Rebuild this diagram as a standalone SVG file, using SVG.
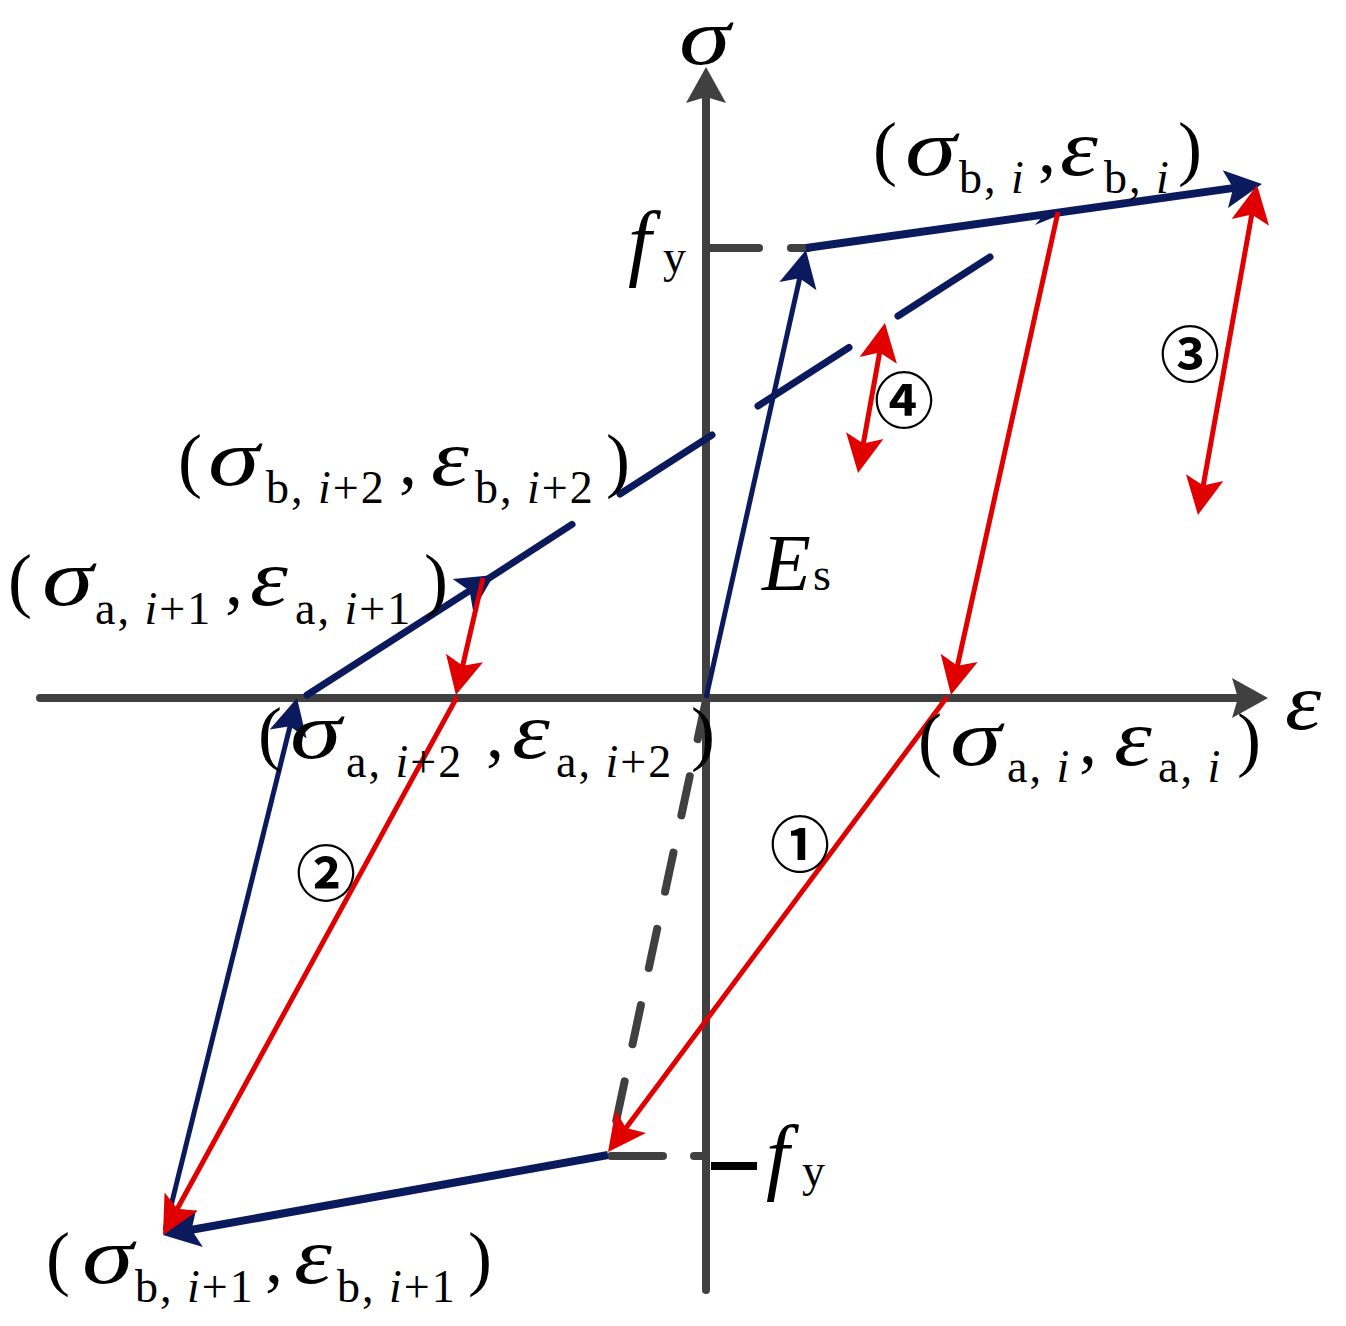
<svg xmlns="http://www.w3.org/2000/svg" width="1346" height="1326" viewBox="0 0 1346 1326">
<style>
.ax{stroke:#404040;stroke-width:8;fill:none;stroke-linecap:round}
.bl{stroke:#0b1a5c;fill:none}
.rd{stroke:#e00000;stroke-width:5;fill:none}
.t{font-family:"Liberation Serif","Times New Roman",serif;fill:#000;font-size:72px}
.g{font-family:"Liberation Serif","Times New Roman",serif;fill:#000;font-size:80px;font-style:italic}
.s{font-size:46px;letter-spacing:2px}
.i{font-style:italic}
.c{font-family:"Noto Sans CJK SC","DejaVu Sans",sans-serif;font-size:60px;font-weight:bold;text-anchor:middle;fill:#000}
</style>
<defs>
<marker id="ag" markerUnits="userSpaceOnUse" markerWidth="44" markerHeight="44" viewBox="-40 -22 44 44" refX="-15" refY="0" orient="auto"><path d="M0,0 L-36,-20 L-30,0 L-36,20 Z" fill="#404040"/></marker>
<marker id="ab" markerUnits="userSpaceOnUse" markerWidth="44" markerHeight="44" viewBox="-40 -22 44 44" refX="-15" refY="0" orient="auto"><path d="M0,0 L-37,-19 L-29,0 L-37,19 Z" fill="#0b1a5c"/></marker>
<marker id="ar" markerUnits="userSpaceOnUse" markerWidth="44" markerHeight="44" viewBox="-40 -22 44 44" refX="-15" refY="0" orient="auto-start-reverse"><path d="M0,0 L-38,-19 L-30,0 L-38,19 Z" fill="#e00000"/></marker>
</defs>

<g id="axes">
<line class="ax" x1="706" y1="1290" x2="706" y2="82" marker-end="url(#ag)"/>
<line class="ax" x1="40" y1="698" x2="1253" y2="698" marker-end="url(#ag)"/>
<line class="ax" x1="710" y1="248" x2="759" y2="248"/>
<line class="ax" x1="791" y1="248" x2="808" y2="248"/>
<line class="ax" x1="611" y1="1156" x2="663" y2="1156"/>
<line class="ax" x1="694" y1="1156" x2="706" y2="1156"/>
<line x1="711" y1="1166" x2="757" y2="1166" stroke="#000" stroke-width="8"/>
<line class="ax" x1="706" y1="700" x2="610" y2="1150" stroke-width="7" stroke-dasharray="40 38"/>
</g>

<g id="connectors">
<line class="bl" stroke-width="5" x1="706" y1="698" x2="802.7" y2="264.6" marker-end="url(#ab)"/>
<line class="bl" stroke-width="8" x1="806" y1="248" x2="1247.1" y2="186.1" marker-end="url(#ab)"/>
<polygon points="1035,225 1057,216 1043,216" fill="#0b1a5c"/>
<line class="bl" stroke-width="7" stroke-linecap="round" x1="307" y1="695" x2="481.4" y2="583.1" marker-end="url(#ab)"/>
<line class="bl" stroke-width="7" stroke-linecap="round" x1="481" y1="583.4" x2="572" y2="524.4"/>
<line class="bl" stroke-width="7" stroke-linecap="round" x1="620" y1="494" x2="712" y2="435"/>
<line class="bl" stroke-width="7" stroke-linecap="round" x1="758" y1="406" x2="849" y2="347.5"/>
<line class="bl" stroke-width="7" stroke-linecap="round" x1="898" y1="316" x2="990" y2="257"/>
<line class="bl" stroke-width="5" x1="165" y1="1230" x2="293.4" y2="712.6" marker-end="url(#ab)"/>
<line class="bl" stroke-width="8" x1="608" y1="1155" x2="177.8" y2="1232.3" marker-end="url(#ab)"/>

<line class="rd" x1="1058" y1="212" x2="954.2" y2="680.4" marker-end="url(#ar)"/>
<line class="rd" x1="947" y1="697" x2="617" y2="1140" marker-end="url(#ar)"/>
<line class="rd" x1="483" y1="578" x2="459.3" y2="680.4" marker-end="url(#ar)"/>
<line class="rd" x1="457" y1="697" x2="170.2" y2="1221.8" marker-end="url(#ar)"/>
<line class="rd" x1="1254.4" y1="199.8" x2="1200.6" y2="500.2" marker-start="url(#ar)" marker-end="url(#ar)"/>
<line class="rd" x1="882.3" y1="337.8" x2="860.7" y2="458.2" marker-start="url(#ar)" marker-end="url(#ar)"/>
</g>

<g id="axis-labels">
<text class="g" transform="translate(679,64) scale(1.3,1)">σ</text>
<text class="g" transform="translate(1285,729) scale(1.15,1)">ε</text>
<text class="t"><tspan class="i" font-size="84" x="628" y="270">f</tspan><tspan class="s" x="663" y="272">y</tspan></text>
<text class="t"><tspan class="i" font-size="84" x="766" y="1184">f</tspan><tspan class="s" x="802" y="1186">y</tspan></text>
<text class="t"><tspan class="i" font-size="80" x="762" y="590">E</tspan><tspan class="s" x="813" y="590">s</tspan></text>
</g>

<g id="label-b-i">
<text class="g" transform="translate(905,175) scale(1.3,1)">σ</text>
<text class="g" transform="translate(1060,175) scale(1.2,1)">ε</text>
<text class="t"><tspan x="873" y="172">(</tspan><tspan class="s" x="959" y="193">b, </tspan><tspan class="s i" y="193">i</tspan><tspan x="1038" y="172">,</tspan><tspan class="s" x="1104" y="193">b, </tspan><tspan class="s i" y="193">i</tspan><tspan x="1178" y="172">)</tspan></text>
</g>

<g id="label-b-i2">
<text class="g" transform="translate(208,485) scale(1.3,1)">σ</text>
<text class="g" transform="translate(431,485) scale(1.2,1)">ε</text>
<text class="t"><tspan x="178" y="484">(</tspan><tspan class="s" x="266" y="503">b, </tspan><tspan class="s i" y="503">i</tspan><tspan class="s" y="503">+2</tspan><tspan x="399" y="484">,</tspan><tspan class="s" x="475" y="503">b, </tspan><tspan class="s i" y="503">i</tspan><tspan class="s" y="503">+2</tspan><tspan x="606" y="484">)</tspan></text>
</g>

<g id="label-a-i1">
<text class="g" transform="translate(42,605) scale(1.3,1)">σ</text>
<text class="g" transform="translate(250,605) scale(1.2,1)">ε</text>
<text class="t"><tspan x="8" y="604">(</tspan><tspan class="s" x="95" y="624">a, </tspan><tspan class="s i" y="624">i</tspan><tspan class="s" y="624">+1</tspan><tspan x="225" y="604">,</tspan><tspan class="s" x="295" y="624">a, </tspan><tspan class="s i" y="624">i</tspan><tspan class="s" y="624">+1</tspan><tspan x="424" y="604">)</tspan></text>
</g>

<g id="label-a-i2">
<text class="g" transform="translate(290,758) scale(1.3,1)">σ</text>
<text class="g" transform="translate(512,758) scale(1.2,1)">ε</text>
<text class="t"><tspan x="258" y="757">(</tspan><tspan class="s" x="346" y="777">a, </tspan><tspan class="s i" y="777">i</tspan><tspan class="s" y="777">+2</tspan><tspan x="486" y="757">,</tspan><tspan class="s" x="556" y="777">a, </tspan><tspan class="s i" y="777">i</tspan><tspan class="s" y="777">+2</tspan><tspan x="691" y="757">)</tspan></text>
</g>

<g id="label-a-i">
<text class="g" transform="translate(950,765) scale(1.3,1)">σ</text>
<text class="g" transform="translate(1114,765) scale(1.2,1)">ε</text>
<text class="t"><tspan x="918" y="763">(</tspan><tspan class="s" x="1007" y="782">a, </tspan><tspan class="s i" y="782">i</tspan><tspan x="1079" y="763">,</tspan><tspan class="s" x="1158" y="782">a, </tspan><tspan class="s i" y="782">i</tspan><tspan x="1237" y="763">)</tspan></text>
</g>

<g id="label-b-i1">
<text class="g" transform="translate(82,1283) scale(1.3,1)">σ</text>
<text class="g" transform="translate(294,1283) scale(1.2,1)">ε</text>
<text class="t"><tspan x="46" y="1282">(</tspan><tspan class="s" x="135" y="1302">b, </tspan><tspan class="s i" y="1302">i</tspan><tspan class="s" y="1302">+1</tspan><tspan x="265" y="1282">,</tspan><tspan class="s" x="337" y="1302">b, </tspan><tspan class="s i" y="1302">i</tspan><tspan class="s" y="1302">+1</tspan><tspan x="468" y="1282">)</tspan></text>
</g>

<g id="num-1"><text class="c" x="800" y="867">①</text></g>
<g id="num-2"><text class="c" x="326" y="896">②</text></g>
<g id="num-3"><text class="c" x="1190" y="377">③</text></g>
<g id="num-4"><text class="c" x="904" y="423">④</text></g>
</svg>
